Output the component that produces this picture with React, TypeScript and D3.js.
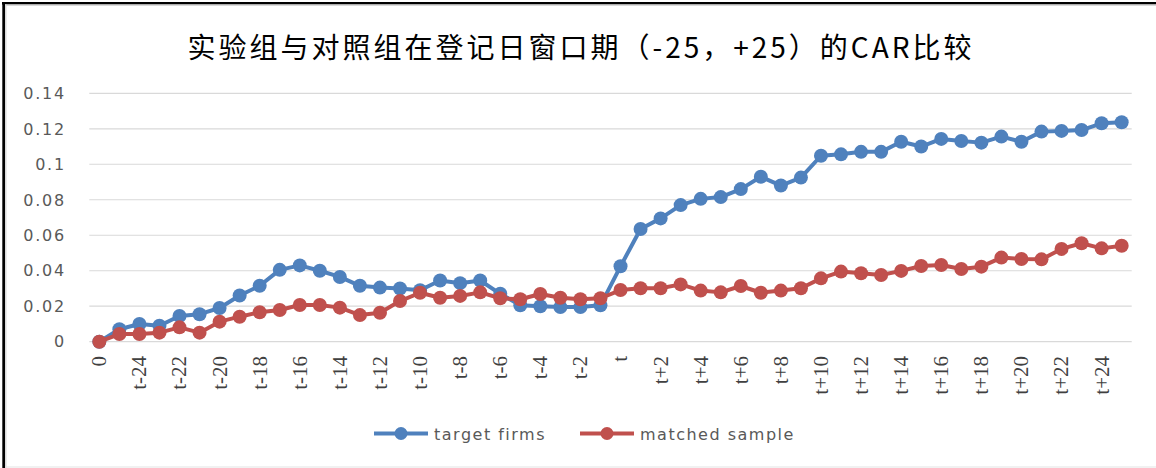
import React from "react";
import * as d3 from "d3";

const categories: string[] = [
  "0", "t-25", "t-24", "t-23", "t-22", "t-21", "t-20", "t-19", "t-18", "t-17", "t-16",
  "t-15", "t-14", "t-13", "t-12", "t-11", "t-10", "t-9", "t-8", "t-7", "t-6",
  "t-5", "t-4", "t-3", "t-2", "t-1", "t", "t+1", "t+2", "t+3", "t+4", "t+5",
  "t+6", "t+7", "t+8", "t+9", "t+10", "t+11", "t+12", "t+13", "t+14", "t+15",
  "t+16", "t+17", "t+18", "t+19", "t+20", "t+21", "t+22", "t+23", "t+24", "t+25",
];

const xTickLabels: string[] = [
  "0", "t-24", "t-22", "t-20", "t-18", "t-16", "t-14", "t-12", "t-10", "t-8", "t-6",
  "t-4", "t-2", "t", "t+2", "t+4", "t+6", "t+8", "t+10", "t+12", "t+14", "t+16",
  "t+18", "t+20", "t+22", "t+24",
];

const targetFirms: number[] = [
  0, 0.007, 0.010, 0.009, 0.0145, 0.0155, 0.019, 0.026, 0.0315, 0.0405, 0.043,
  0.040, 0.0365, 0.0315, 0.0305, 0.030, 0.029, 0.0345, 0.033, 0.0345, 0.027,
  0.0205, 0.020, 0.0195, 0.0195, 0.0205, 0.0425, 0.0635, 0.0695, 0.077, 0.0805, 0.0815,
  0.086, 0.093, 0.088, 0.0925, 0.1048, 0.1056, 0.107, 0.107, 0.1127, 0.110,
  0.1143, 0.1131, 0.1122, 0.1156, 0.1127, 0.1184, 0.1188, 0.1193, 0.1231, 0.1237,
];

const matchedSample: number[] = [
  0, 0.0043, 0.0043, 0.0051, 0.0081, 0.0051, 0.0113, 0.0141, 0.0166, 0.0179, 0.0207,
  0.0207, 0.0192, 0.015, 0.0163, 0.0229, 0.0276, 0.0248, 0.0258, 0.0278, 0.0245,
  0.0239, 0.0269, 0.0248, 0.0239, 0.0245, 0.0291, 0.0301, 0.0301, 0.0323, 0.0288, 0.0278,
  0.0314, 0.0276, 0.0288, 0.0301, 0.0357, 0.0395, 0.0386, 0.0376, 0.0399, 0.0427,
  0.0432, 0.041, 0.0423, 0.0474, 0.0466, 0.0464, 0.0523, 0.0555, 0.0526, 0.0541,
];

const yTicks: number[] = [0, 0.02, 0.04, 0.06, 0.08, 0.1, 0.12, 0.14];

const seriesNames: string[] = ["target firms", "matched sample"];
const seriesColors: string[] = ["#4F81BD", "#C0504D"];

const W = 1156;
const H = 468;
const plotLeft = 89.3;
const plotRight = 1131.7;
const plotTop = 93.3;
const plotBottom = 341.7;

export default function App() {
  const x = d3.scalePoint<string>().domain(categories).range([plotLeft, plotRight]).padding(0.5);
  const y = d3.scaleLinear().domain([0, 0.14]).range([plotBottom, plotTop]);
  const line = d3
    .line<number>()
    .x((_, i) => x(categories[i]) as number)
    .y((d) => y(d));

  const series = [targetFirms, matchedSample];
  const fmt = (v: number) => (v === 0 ? "0" : String(+v.toFixed(2)));

  const legendItems = [
    { x0: 374, x1: 428, tx: 434 },
    { x0: 580, x1: 634, tx: 640 },
  ];

  return (
    <svg
      width={W}
      height={H}
      style={{ position: "absolute", left: 0, top: 0, background: "#fff" }}
    >
      <rect x={0} y={0} width={W} height={H} fill="#fff" />
      {/* frame */}
      <rect x={2} y={2} width={W - 2} height={2.5} fill="#000" />
      <rect x={2.3} y={2} width={2.7} height={H - 2} fill="#000" />
      <rect x={5} y={4.5} width={W - 5} height={1.5} fill="#d9d9d9" />
      <rect x={5} y={4.5} width={1.5} height={H - 4.5} fill="#d9d9d9" />
      <rect x={5} y={466.5} width={W - 5} height={1} fill="#e4e4e4" />

      {/* title */}
      <text
        x={581}
        y={58}
        textAnchor="middle"
        fontFamily="'Noto Sans CJK SC', sans-serif"
        fontSize={28}
        letterSpacing={3}
        fill="#000"
      >
        实验组与对照组在登记日窗口期（-25，+25）的CAR比较
      </text>

      {/* gridlines */}
      {yTicks.map((t) => (
        <line
          key={"g" + t}
          x1={plotLeft}
          x2={plotRight}
          y1={y(t)}
          y2={y(t)}
          stroke="#d9d9d9"
          strokeWidth={1.2}
        />
      ))}

      {/* y labels */}
      {yTicks.map((t) => (
        <text
          key={"yl" + t}
          x={66}
          y={y(t)}
          dy="0.36em"
          textAnchor="end"
          fontFamily="'DejaVu Sans', sans-serif"
          fontSize={16}
          letterSpacing={1.8}
          fill="#595959"
        >
          {fmt(t)}
        </text>
      ))}

      {/* x labels */}
      {xTickLabels.map((lab) => {
        const px = x(lab) as number;
        return (
          <text
            key={"xl" + lab}
            transform={`translate(${px},356) rotate(-90)`}
            dy="0.33em"
            textAnchor="end"
            fontFamily="'Liberation Serif', serif"
            fontSize={21}
            fill="#404040"
          >
            {lab}
          </text>
        );
      })}

      {/* series */}
      {series.map((s, si) => (
        <g key={"s" + si}>
          <path d={line(s) || ""} fill="none" stroke={seriesColors[si]} strokeWidth={4} strokeLinejoin="round" />
          {s.map((v, i) => (
            <circle key={i} cx={x(categories[i]) as number} cy={y(v)} r={7} fill={seriesColors[si]} />
          ))}
        </g>
      ))}

      {/* legend */}
      {legendItems.map((it, i) => (
        <g key={"lg" + i}>
          <line x1={it.x0} x2={it.x1} y1={433.5} y2={433.5} stroke={seriesColors[i]} strokeWidth={4} />
          <circle cx={(it.x0 + it.x1) / 2} cy={433.5} r={6.5} fill={seriesColors[i]} />
          <text
            x={it.tx}
            y={440}
            fontFamily="'DejaVu Sans', sans-serif"
            fontSize={16}
            letterSpacing={1.5}
            fill="#595959"
          >
            {seriesNames[i]}
          </text>
        </g>
      ))}
    </svg>
  );
}
